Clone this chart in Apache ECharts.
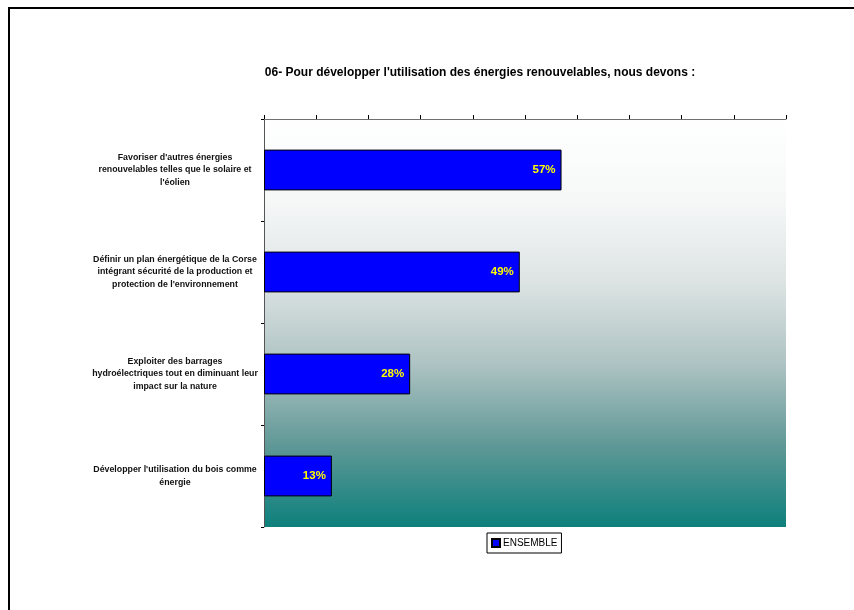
<!DOCTYPE html>
<html>
<head>
<meta charset="utf-8">
<script src="https://cdn.jsdelivr.net/npm/echarts@6/dist/echarts.min.js"></script>
<style>
  html, body { margin: 0; padding: 0; background: #fff; }
  #chart { width: 854px; height: 610px; }
</style>
</head>
<body>
<div id="chart"></div>
<script>
// Survey answers (top to bottom) and their share of respondents, in %
const categories = [
  "Favoriser d'autres énergies\nrenouvelables telles que le solaire et\nl'éolien",
  "Définir un plan énergétique de la Corse\nintégrant sécurité de la production et\nprotection de l'environnement",
  "Exploiter des barrages\nhydroélectriques tout en diminuant leur\nimpact sur la nature",
  "Développer l'utilisation du bois comme\nénergie"
];
const ensembleValues = [57, 49, 28, 13];
const seriesName = 'ENSEMBLE';
const titleText = "06- Pour développer l'utilisation des énergies renouvelables, nous devons :";

const chart = echarts.init(document.getElementById('chart'));

const FONT = 'Liberation Sans, Arial, sans-serif';

chart.setOption({
  animation: false,
  textStyle: { fontFamily: FONT },
  title: {
    text: titleText,
    left: 475,
    textAlign: 'center',
    top: 62,
    textStyle: { fontSize: 12, fontWeight: 'bold', color: '#000', fontFamily: FONT }
  },
  graphic: [{
    type: 'rect',
    shape: { x: 9, y: 8, width: 1000, height: 1000 },
    style: { fill: 'none', stroke: '#000', lineWidth: 2 },
    silent: true,
    z: 100
  }],
  legend: {
    data: [seriesName],
    left: 487,
    top: 533,
    padding: [5, 4, 5, 4],
    itemWidth: 8,
    itemHeight: 8,
    itemGap: 4,
    borderColor: '#000',
    borderWidth: 1,
    backgroundColor: '#fff',
    icon: 'rect',
    textStyle: { fontSize: 10, color: '#000', fontFamily: FONT, padding: [0, 0, 0, -2] }
  },
  grid: {
    left: 264,
    top: 119,
    width: 522,
    height: 408,
    show: true,
    borderWidth: 0,
    backgroundColor: new echarts.graphic.LinearGradient(0, 0, 0, 1, [
      { offset: 0, color: '#ffffff' },
      { offset: 0.2, color: '#f6f8f8' },
      { offset: 0.4, color: '#dde3e3' },
      { offset: 0.6, color: '#aec3c3' },
      { offset: 0.8, color: '#5f9896' },
      { offset: 1, color: '#0d807c' }
    ])
  },
  xAxis: {
    type: 'value',
    position: 'top',
    min: 0,
    max: 100,
    interval: 10,
    axisLine: { show: true, lineStyle: { color: '#707070', width: 1 } },
    axisTick: { show: true, length: 4, lineStyle: { color: '#000' } },
    axisLabel: { show: false },
    splitLine: { show: false }
  },
  yAxis: {
    type: 'category',
    inverse: true,
    data: categories,
    axisLine: { show: true, lineStyle: { color: '#555', width: 1 } },
    axisTick: { show: true, length: 3, lineStyle: { color: '#000' } },
    axisLabel: {
      align: 'center',
      margin: 89,
      fontSize: 8.8,
      fontWeight: 'bold',
      lineHeight: 12.5,
      color: '#111',
      fontFamily: FONT
    }
  },
  series: [{
    name: seriesName,
    type: 'bar',
    data: ensembleValues,
    barWidth: '40%',
    itemStyle: { color: '#0000ff', borderColor: '#000', borderWidth: 1 },
    label: {
      show: true,
      position: 'insideRight',
      distance: 6,
      formatter: '{c}%',
      color: '#ffff00',
      fontSize: 11.5,
      fontWeight: 'bold',
      fontFamily: FONT
    }
  }]
});
</script>
</body>
</html>
